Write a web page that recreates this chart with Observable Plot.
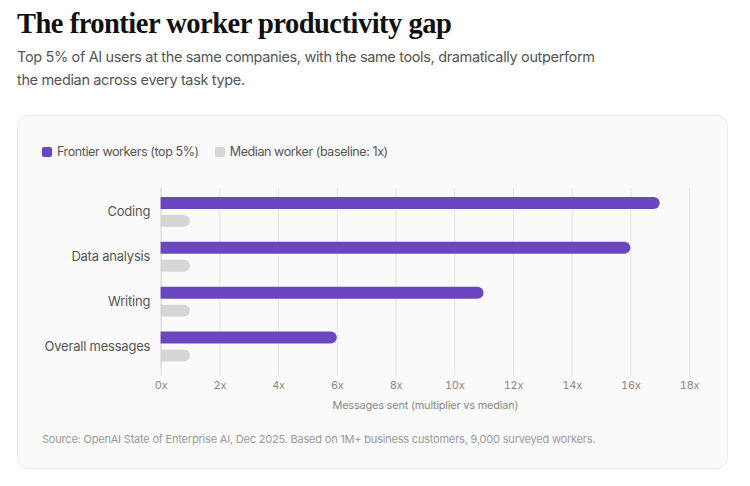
<!DOCTYPE html>
<html>
<head>
<meta charset="utf-8">
<script src="https://cdn.jsdelivr.net/npm/d3@7"></script>
<script src="https://cdn.jsdelivr.net/npm/@observablehq/plot@0.6"></script>
<style>
  html, body { margin: 0; padding: 0; background: #fff; }
  body { width: 750px; height: 486px; position: relative; font-family: Inter, "Noto Sans", sans-serif; }
  #title { position: absolute; left: 17px; top: 7px; font-family: "Liberation Serif", serif; font-weight: bold; font-size: 28.5px; line-height: 34px; color: #111; letter-spacing: -0.5px; white-space: nowrap; }
  #subtitle { position: absolute; left: 17px; top: 45px; width: 592px; font-size: 14.5px; line-height: 23px; color: #555; letter-spacing: -0.35px; }
  #card { position: absolute; left: 17px; top: 115px; width: 709px; height: 352px; background: #fafafa; border: 1px solid #ebebeb; border-radius: 12px; }
  #legend { position: absolute; left: 24px; top: 28px; font-size: 12.5px; color: #555; display: flex; gap: 16px; letter-spacing: -0.4px; }
  #legend span.item { display: flex; align-items: center; gap: 5px; }
  #legend span.sw { width: 10px; height: 10px; border-radius: 2px; display: inline-block; }
  #chart { position: absolute; left: 0; top: 63px; }
  #source { position: absolute; left: 24px; top: 316px; font-size: 11px; color: #999; letter-spacing: -0.2px; }
</style>
</head>
<body>
<div id="title">The frontier worker productivity gap</div>
<div id="subtitle">Top 5% of AI users at the same companies, with the same tools, dramatically outperform the median across every task type.</div>
<div id="card">
  <div id="legend"></div>
  <div id="chart"></div>
  <div id="source">Source: OpenAI State of Enterprise AI, Dec 2025. Based on 1M+ business customers, 9,000 surveyed workers.</div>
</div>
<script>
const categories = ["Coding", "Data analysis", "Writing", "Overall messages"];
const frontierValues = [17, 16, 11, 6];
const medianValues = [1, 1, 1, 1];
const seriesNames = ["Frontier workers (top 5%)", "Median worker (baseline: 1x)"];
const seriesColors = ["#6b46c1", "#d6d6d6"];
const xTicks = [0, 2, 4, 6, 8, 10, 12, 14, 16, 18];

const legend = document.getElementById("legend");
seriesNames.forEach((n, i) => {
  const it = document.createElement("span");
  it.className = "item";
  it.innerHTML = `<span class="sw" style="background:${seriesColors[i]}"></span>${n}`;
  legend.appendChild(it);
});

const frontier = categories.map((c, i) => ({category: c, value: frontierValues[i]}));
const median = categories.map((c, i) => ({category: c, value: medianValues[i]}));

const chart = Plot.plot({
  width: 711,
  height: 236,
  marginLeft: 143,
  marginRight: 38,
  marginTop: 9,
  marginBottom: 46,
  style: {fontFamily: "Inter, 'Noto Sans', sans-serif", background: "transparent", letterSpacing: "-0.2px"},
  x: {domain: [0, 18], ticks: xTicks, tickFormat: d => d + "x", label: "Messages sent (multiplier vs median)"},
  y: {domain: categories, padding: 0, label: null},
  marks: [
    Plot.gridX(xTicks, {stroke: "#e6e6e6", strokeOpacity: 1}),
    Plot.axisX({ticks: xTicks, tickFormat: d => d + "x", tickSize: 8, stroke: "#e6e6e6", fill: "#888", fontSize: 11, tickPadding: 4,
      label: "Messages sent (multiplier vs median)", labelAnchor: "center", labelArrow: "none", labelOffset: 40, color: "#999"}),
    Plot.axisY({tickSize: 0, tickPadding: 11, fontSize: 13, fill: "#555", label: null}),
    Plot.ruleX([0], {stroke: "#dcdcdc"}),
    Plot.ruleY([0], {frameAnchor: "bottom", stroke: "#dcdcdc"}),
    Plot.barX(frontier, {y: "category", x: "value", fill: seriesColors[0], insetTop: 8, insetBottom: 25, insetLeft: -8, rx: 6, clip: true}),
    Plot.barX(median, {y: "category", x: "value", fill: seriesColors[1], insetTop: 26, insetBottom: 7, insetLeft: -8, rx: 6, clip: true})
  ]
});
document.getElementById("chart").appendChild(chart);
</script>
</body>
</html>
